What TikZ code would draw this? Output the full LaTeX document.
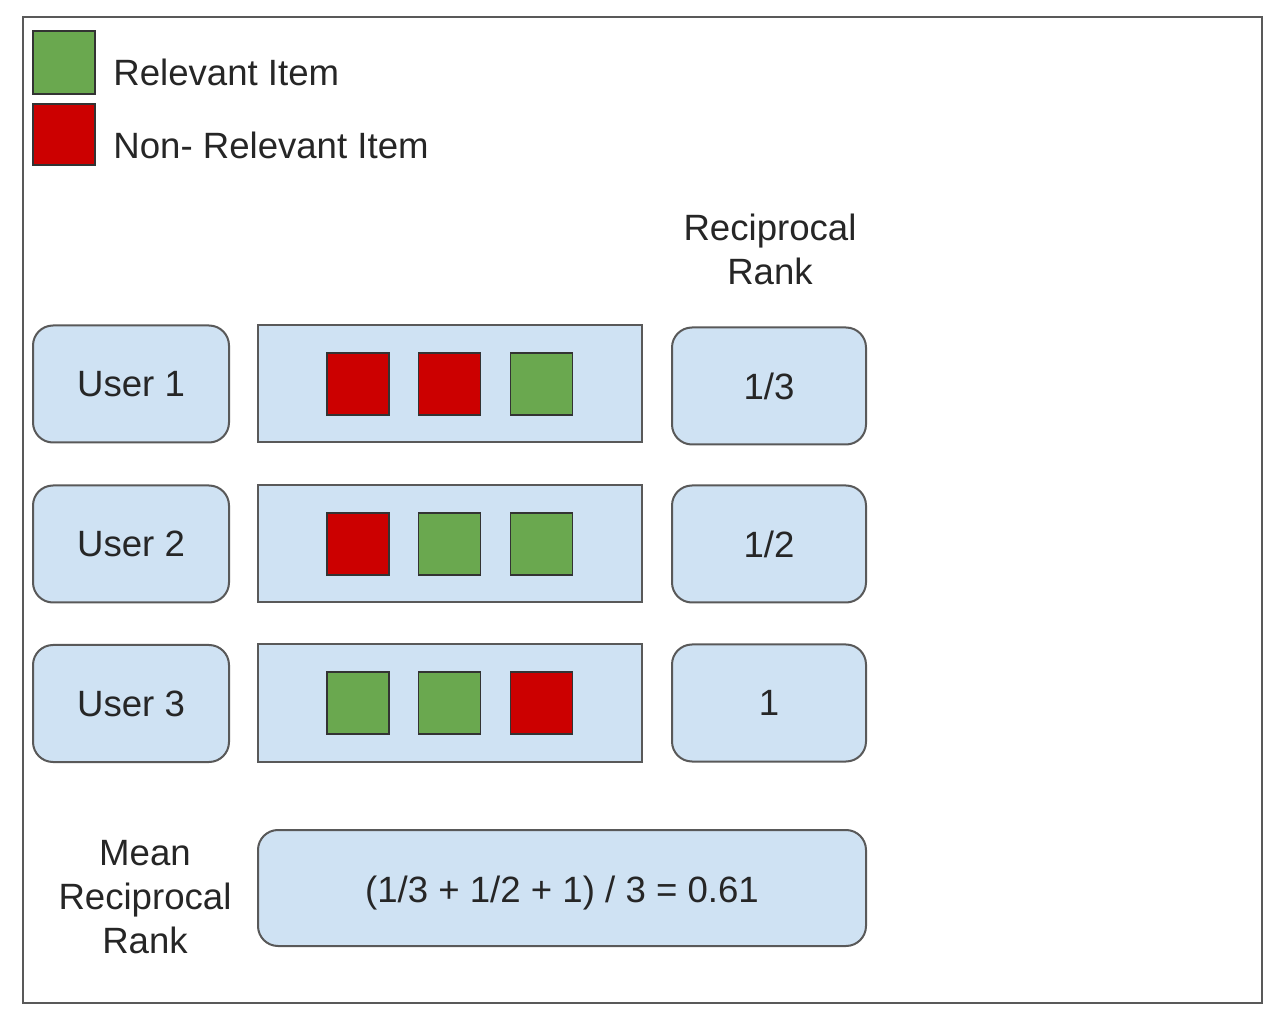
\documentclass[tikz,border=0pt]{standalone}
\usepackage{fontspec}
\setmainfont{Liberation Sans}
\definecolor{boxfill}{HTML}{CFE2F3}
\definecolor{boxline}{HTML}{595959}
\definecolor{relgreen}{HTML}{6AA84F}
\definecolor{nonred}{HTML}{CC0000}
\begin{document}
\begin{tikzpicture}[x=0.5pt,y=-0.5pt,
  every node/.style={font=\fontsize{18.3}{22}\selectfont, text=black!85},
  userbox/.style={draw=boxline, fill=boxfill, line width=1pt, rounded corners=10pt, minimum width=98pt, minimum height=58.5pt, inner sep=0pt},
  listbox/.style={draw=boxline, fill=boxfill, line width=1pt, minimum width=192pt, minimum height=58.5pt, inner sep=0pt},
  rrbox/.style={draw=boxline, fill=boxfill, line width=1pt, rounded corners=10pt, minimum width=97pt, minimum height=58.5pt, inner sep=0pt},
  item/.style={draw=black!80, line width=0.8pt, minimum width=31pt, minimum height=31pt, inner sep=0pt},
  rel/.style={item, fill=relgreen},
  non/.style={item, fill=nonred},
  label/.style={align=center, inner sep=0pt}
]
\useasboundingbox (0,0) rectangle (1270,1026);
\draw[boxline, line width=1pt] (23,17) rectangle (1262,1003);

% legend
\node[rel, minimum height=31.5pt] (lg) at (64,62.5) {};
\node[non, minimum height=30.5pt] (lr) at (64,134.5) {};
\node[anchor=west, inner sep=0pt] (lgt) at (113,72) {Relevant Item};
\node[anchor=west, inner sep=0pt] (lrt) at (113,145) {Non- Relevant Item};

% header
\node[label] (hdr) at (770,249) {Reciprocal\\Rank};

% row 1
\node[userbox] (u1) at (131,384) {User 1};
\node[listbox] (l1) at (450,384) {};
\node[non] (a1) at (358,384) {};
\node[non] (b1) at (449.5,384) {};
\node[rel] (c1) at (541.5,384) {};
\node[rrbox] (r1) at (769,386) {1/3};

% row 2
\node[userbox] (u2) at (131,544) {User 2};
\node[listbox] (l2) at (450,544) {};
\node[non] (a2) at (358,544) {};
\node[rel] (b2) at (449.5,544) {};
\node[rel] (c2) at (541.5,544) {};
\node[rrbox] (r2) at (769,544) {1/2};

% row 3
\node[userbox] (u3) at (131,703.5) {User 3};
\node[listbox] (l3) at (450,703) {};
\node[rel] (a3) at (358,703) {};
\node[rel] (b3) at (449.5,703) {};
\node[non] (c3) at (541.5,703) {};
\node[rrbox] (r3) at (769,703) {1};

% mean
\node[label] (mlab) at (145,897) {Mean\\Reciprocal\\Rank};
\node[rrbox, minimum width=304pt, minimum height=58pt] (mrr) at (562,888) {\raisebox{-2.5pt}[\height][\depth]{(1/3 + 1/2 + 1) / 3 = 0.61}};
\end{tikzpicture}
\end{document}
